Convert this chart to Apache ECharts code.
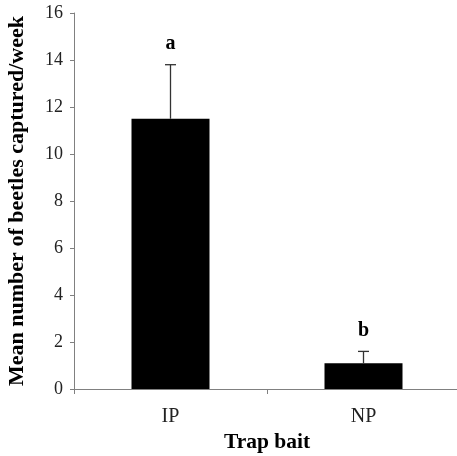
<!DOCTYPE html>
<html><head><meta charset="utf-8">
<script src="https://cdn.jsdelivr.net/npm/echarts@6/dist/echarts.min.js"></script>
<style>html,body{margin:0;padding:0;background:#fff}#c{width:457px;height:456px}</style>
</head><body><div id="c"></div>
<script>
var categories = ['IP', 'NP'];
var means = [11.5, 1.1];
var errTops = [13.8, 1.6];
var letters = ['a', 'b'];
var yTicks = [0, 2, 4, 6, 8, 10, 12, 14, 16];

var chart = echarts.init(document.getElementById('c'));
var serif = '"Liberation Serif", "Times New Roman", serif';
chart.setOption({
  animation: false,
  grid: { left: 74, right: -3, top: 13, bottom: 67, outerBoundsMode: 'none', containLabel: false },
  xAxis: {
    type: 'category', data: categories,
    axisLine: { lineStyle: { color: '#808080', width: 1 } },
    axisTick: { show: true, length: 5, lineStyle: { color: '#808080' }, alignWithLabel: false },
    axisLabel: { color: '#222', fontFamily: serif, fontSize: 20, margin: 18 },
    name: 'Trap bait', nameLocation: 'middle', nameGap: 52,
    nameTextStyle: { color: '#000', fontFamily: serif, fontSize: 21.5, fontWeight: 'bold', verticalAlign: 'middle' }
  },
  yAxis: {
    type: 'value', min: yTicks[0], max: yTicks[yTicks.length - 1], interval: 2,
    axisLine: { show: true, lineStyle: { color: '#808080', width: 1 } },
    axisTick: { show: true, length: 4, lineStyle: { color: '#808080' } },
    splitLine: { show: false },
    axisLabel: { color: '#222', fontFamily: serif, fontSize: 18, margin: 11 },
    name: 'Mean number of beetles captured/week', nameLocation: 'middle', nameGap: 57,
    nameTextStyle: { color: '#000', fontFamily: serif, fontSize: 22, fontWeight: 'bold', verticalAlign: 'middle' }
  },
  series: [
    {
      type: 'bar', data: means, barWidth: 78,
      itemStyle: { color: '#000' }, z: 2
    },
    {
      type: 'custom', z: 3,
      data: categories.map(function (c, i) { return [i, means[i], errTops[i]]; }),
      renderItem: function (params, api) {
        var x = api.value(0);
        var b = api.coord([x, api.value(1)]);
        var t = api.coord([x, api.value(2)]);
        var i = params.dataIndex;
        var hw = 5.5;
        return {
          type: 'group',
          children: [
            { type: 'line', shape: { x1: b[0], y1: b[1], x2: t[0], y2: t[1] }, style: { stroke: '#333', lineWidth: 1.3 } },
            { type: 'line', shape: { x1: t[0] - hw, y1: t[1], x2: t[0] + hw, y2: t[1] }, style: { stroke: '#333', lineWidth: 1.3 } },
            { type: 'text', x: t[0], y: t[1] - 11, style: { text: letters[i], fill: '#000', font: 'bold 20px ' + serif, align: 'center', verticalAlign: 'bottom' } }
          ]
        };
      }
    }
  ]
});
</script></body></html>
